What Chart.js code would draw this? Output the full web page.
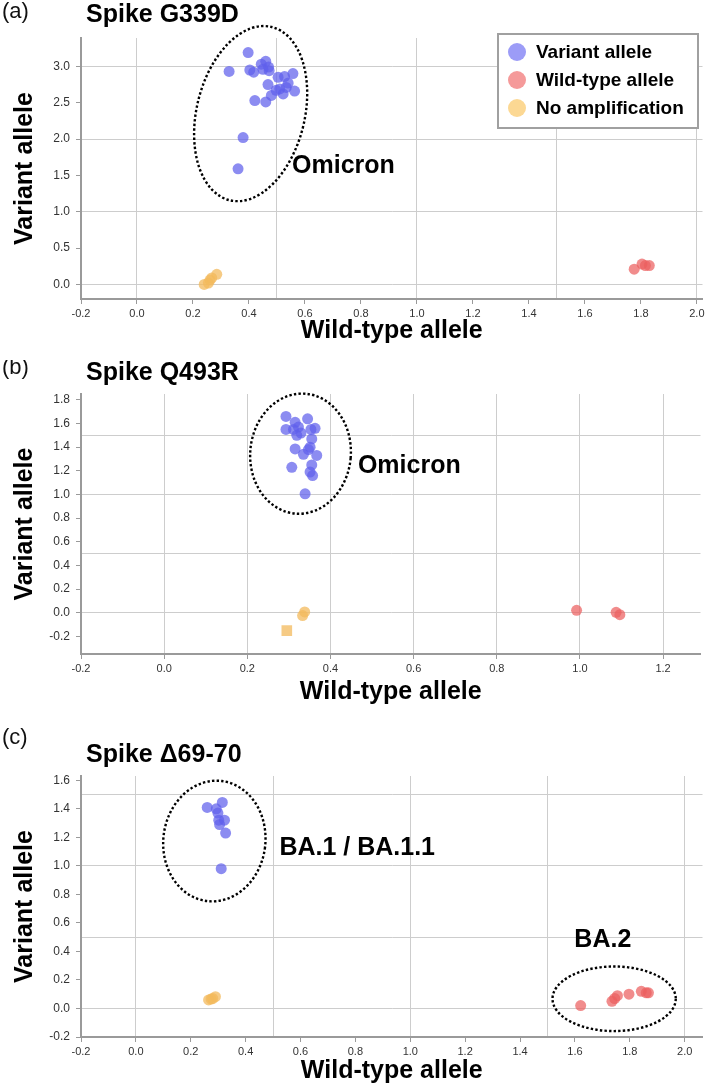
<!DOCTYPE html>
<html><head><meta charset="utf-8">
<script src="https://cdn.jsdelivr.net/npm/chart.js@4.4.1/dist/chart.umd.min.js"></script>
<style>
html,body{margin:0;padding:0;background:#fff;}
#wrap{position:relative;width:708px;height:1088px;overflow:hidden;background:#fff;}
canvas{position:absolute;left:0;}
</style></head><body>
<div id="wrap">
<canvas id="ca" width="708" height="360" style="top:0px"></canvas>
<canvas id="cb" width="708" height="355" style="top:360px"></canvas>
<canvas id="cc" width="708" height="373" style="top:715px"></canvas>
</div>
<script>
// ---------- data ----------
const seriesNames = ['Variant allele', 'Wild-type allele', 'No amplification'];

// Panel (a) Spike G339D
const aVariant = [[0.397,3.19],[0.329,2.93],[0.403,2.95],[0.417,2.92],[0.444,3.03],[0.460,3.07],[0.450,2.96],[0.472,2.94],[0.470,2.99],[0.504,2.85],[0.527,2.86],[0.557,2.90],[0.468,2.75],[0.497,2.67],[0.510,2.69],[0.533,2.71],[0.563,2.66],[0.540,2.77],[0.480,2.60],[0.522,2.62],[0.421,2.53],[0.460,2.51],[0.379,2.02],[0.361,1.59]];
const aWild = [[1.776,0.21],[1.804,0.28],[1.816,0.26],[1.830,0.26]];
const aNoAmp = [[0.240,0.00],[0.255,0.02],[0.261,0.06],[0.267,0.09],[0.285,0.14]];
const aXTicks = [-0.2,0.0,0.2,0.4,0.6,0.8,1.0,1.2,1.4,1.6,1.8,2.0];
const aYTicks = [0.0,0.5,1.0,1.5,2.0,2.5,3.0];
const aXGrid = [0.0,0.5,1.0,1.5,2.0];
const aYGrid = [0.0,1.0,2.0,3.0];

// Panel (b) Spike Q493R
const bVariant = [[0.293,1.66],[0.315,1.61],[0.345,1.64],[0.293,1.55],[0.311,1.55],[0.323,1.57],[0.363,1.56],[0.353,1.55],[0.319,1.50],[0.329,1.52],[0.355,1.47],[0.351,1.40],[0.315,1.385],[0.347,1.38],[0.335,1.34],[0.367,1.33],[0.307,1.23],[0.355,1.25],[0.351,1.19],[0.357,1.16],[0.339,1.005]];
const bWild = [[0.992,0.02],[1.087,0.003],[1.096,-0.017]];
const bNoAmp = [[0.338,0.006],[0.333,-0.025]];
const bNoAmpSquare = [[0.295,-0.152]];
const bXTicks = [-0.2,0.0,0.2,0.4,0.6,0.8,1.0,1.2];
const bYTicks = [-0.2,0.0,0.2,0.4,0.6,0.8,1.0,1.2,1.4,1.6,1.8];
const bXGrid = [0.0,0.2,0.4,0.6,0.8,1.0,1.2];
const bYGrid = [0.0,0.5,1.0,1.5];

// Panel (c) Spike Δ69-70
const cVariant = [[0.260,1.41],[0.293,1.40],[0.315,1.445],[0.299,1.37],[0.302,1.32],[0.323,1.32],[0.305,1.29],[0.327,1.23],[0.311,0.98]];
const cWild = [[1.621,0.02],[1.735,0.05],[1.745,0.07],[1.755,0.09],[1.797,0.10],[1.842,0.12],[1.860,0.11],[1.868,0.11]];
const cNoAmp = [[0.265,0.06],[0.274,0.066],[0.280,0.07],[0.290,0.083]];
const cXTicks = [-0.2,0.0,0.2,0.4,0.6,0.8,1.0,1.2,1.4,1.6,1.8,2.0];
const cYTicks = [-0.2,0.0,0.2,0.4,0.6,0.8,1.0,1.2,1.4,1.6];
const cXGrid = [0.0,0.5,1.0,1.5,2.0];
const cYGrid = [0.0,0.5,1.0,1.5];

// ---------- styles ----------
const FONT = '"Liberation Sans", Arial, Helvetica, sans-serif';
const GRID = '#cdcdcd';
const AXIS = '#9a9a9a';
const pointColors = ['rgba(95,95,235,0.72)', 'rgba(236,96,96,0.72)', 'rgba(243,186,92,0.75)'];
const legendColors = ['#9c9cf7', '#f59a9a', '#fcd893'];

function near(list, v) { return list.some(t => Math.abs(t - v) < 1e-6); }

function axis(o) {
  const all = Array.from(new Set([...o.labels, ...o.grid].map(v => Math.round(v * 100) / 100))).sort((a, b) => a - b);
  return {
    type: 'linear', position: o.isY ? 'left' : 'bottom', min: o.min, max: o.max,
    afterBuildTicks: s => { s.ticks = all.filter(v => v >= o.min - 1e-9 && v <= o.max + 1e-9).map(v => ({ value: v })); },
    afterFit: s => { if (o.isY) s.width = o.size; else s.height = o.size; },
    ticks: {
      autoSkip: false, maxRotation: 0, minRotation: 0, padding: o.isY ? 6 : 3, color: '#333',
      font: { family: FONT, size: o.isY ? 12 : 11 },
      callback: v => near(o.labels, v) ? Number(v).toFixed(1) : ''
    },
    grid: {
      color: c => (c.tick && near(o.grid, c.tick.value)) ? GRID : 'rgba(0,0,0,0)',
      tickColor: c => (c.tick && near(o.labels, c.tick.value)) ? AXIS : 'rgba(0,0,0,0)',
      tickLength: 5, lineWidth: 1, drawTicks: true
    },
    border: { display: true, color: AXIS, width: 2 },
    title: { display: true, text: o.title, color: '#000', font: { family: FONT, size: 25, weight: 'bold' }, padding: o.titlePad }
  };
}

function ds(label, arr, color, style, radius) {
  return {
    label: label, data: arr.map(p => ({ x: p[0], y: p[1] })),
    backgroundColor: color, borderWidth: 0, pointRadius: radius || 5.5,
    pointStyle: style || 'circle', pointHoverRadius: radius || 5.5, showLine: false
  };
}

// per-chart decorations (annotations in data units)
const decor = {
  ca: { tag: '(a)', tagY: 12, title: 'Spike G339D', titleY: 15,
        ellipses: [{ x: 0.406, y: 2.35, rx: 0.193, ry: 1.226, rot: 13.6 }],
        labels: [{ text: 'Omicron', x: 0.554, y: 1.63 }], legend: true },
  cb: { tag: '(b)', tagY: 8, title: 'Spike Q493R', titleY: 13,
        ellipses: [{ x: 0.328, y: 1.345, rx: 0.121, ry: 0.509, rot: 5 }],
        labels: [{ text: 'Omicron', x: 0.466, y: 1.236 }] },
  cc: { tag: '(c)', tagY: 23, title: 'Spike Δ69-70', titleY: 40,
        ellipses: [{ x: 0.286, y: 1.174, rx: 0.186, ry: 0.424, rot: 7 }, { x: 1.743, y: 0.068, rx: 0.2246, ry: 0.2265, rot: 0 }],
        labels: [{ text: 'BA.1 / BA.1.1', x: 0.523, y: 1.127 }, { text: 'BA.2', x: 1.598, y: 0.477 }] }
};

const decorPlugin = {
  id: 'decor',
  afterDatasetsDraw(chart) {
    const d = decor[chart.canvas.id]; if (!d) return;
    const ctx = chart.ctx, xs = chart.scales.x, ys = chart.scales.y;
    ctx.save();
    d.ellipses.forEach(e => {
      const cx = xs.getPixelForValue(e.x), cy = ys.getPixelForValue(e.y);
      const rx = Math.abs(xs.getPixelForValue(e.x + e.rx) - cx);
      const ry = Math.abs(ys.getPixelForValue(e.y + e.ry) - cy);
      ctx.beginPath();
      ctx.setLineDash([2.4, 2.2]);
      ctx.lineWidth = 2.4; ctx.strokeStyle = '#000';
      ctx.ellipse(cx, cy, rx, ry, e.rot * Math.PI / 180, 0, Math.PI * 2);
      ctx.stroke();
    });
    ctx.setLineDash([]);
    ctx.fillStyle = '#000'; ctx.textAlign = 'left'; ctx.textBaseline = 'middle';
    ctx.font = 'bold 25px ' + FONT;
    d.labels.forEach(l => ctx.fillText(l.text, xs.getPixelForValue(l.x), ys.getPixelForValue(l.y)));
    ctx.restore();
  },
  afterDraw(chart) {
    const d = decor[chart.canvas.id]; if (!d) return;
    const ctx = chart.ctx;
    ctx.save();
    ctx.fillStyle = '#111'; ctx.textAlign = 'left'; ctx.textBaseline = 'middle';
    ctx.font = '22px ' + FONT;
    ctx.fillText(d.tag, 2, d.tagY);
    ctx.fillStyle = '#000';
    ctx.font = 'bold 25px ' + FONT;
    ctx.fillText(d.title, 86, d.titleY);
    if (d.legend) {
      ctx.fillStyle = '#fff';
      ctx.fillRect(498, 34, 200, 94);
      ctx.strokeStyle = '#a0a0a0'; ctx.lineWidth = 2;
      ctx.strokeRect(498, 34, 200, 94);
      ctx.font = 'bold 19px ' + FONT;
      seriesNames.forEach((name, i) => {
        const cy = 52 + i * 28;
        ctx.beginPath(); ctx.fillStyle = legendColors[i];
        ctx.arc(517, cy, 9, 0, Math.PI * 2); ctx.fill();
        ctx.fillStyle = '#000';
        ctx.fillText(name, 536, cy + 1);
      });
    }
    ctx.restore();
  }
};
Chart.register(decorPlugin);

function makeChart(id, datasets, xo, yo, padTop) {
  return new Chart(document.getElementById(id), {
    type: 'scatter',
    data: { datasets: datasets },
    options: {
      responsive: false, animation: false, events: [],
      layout: { padding: { top: padTop, left: 0, right: 3, bottom: 0 } },
      plugins: { legend: { display: false }, tooltip: { enabled: false } },
      scales: { x: axis(xo), y: axis(yo) }
    }
  });
}

makeChart('ca',
  [ds(seriesNames[0], aVariant, pointColors[0]), ds(seriesNames[1], aWild, pointColors[1]), ds(seriesNames[2], aNoAmp, pointColors[2])],
  { min: -0.2, max: 2.02, labels: aXTicks, grid: aXGrid, size: 61, title: 'Wild-type allele', titlePad: { top: 0, bottom: 14 } },
  { isY: true, min: -0.2, max: 3.39, labels: aYTicks, grid: aYGrid, size: 81, title: 'Variant allele', titlePad: { top: 10, bottom: 0 } },
  38);

makeChart('cb',
  [ds(seriesNames[0], bVariant, pointColors[0]), ds(seriesNames[1], bWild, pointColors[1]), ds(seriesNames[2], bNoAmp, pointColors[2]), ds(seriesNames[2], bNoAmpSquare, pointColors[2], 'rect', 7.5)],
  { min: -0.2, max: 1.29, labels: bXTicks, grid: bXGrid, size: 61, title: 'Wild-type allele', titlePad: { top: 0, bottom: 8 } },
  { isY: true, min: -0.35, max: 1.85, labels: bYTicks, grid: bYGrid, size: 81, title: 'Variant allele', titlePad: { top: 10, bottom: 0 } },
  34);

makeChart('cc',
  [ds(seriesNames[0], cVariant, pointColors[0]), ds(seriesNames[1], cWild, pointColors[1]), ds(seriesNames[2], cNoAmp, pointColors[2])],
  { min: -0.2, max: 2.065, labels: cXTicks, grid: cXGrid, size: 51, title: 'Wild-type allele', titlePad: { top: 0, bottom: 2 } },
  { isY: true, min: -0.2, max: 1.63, labels: cYTicks, grid: cYGrid, size: 81, title: 'Variant allele', titlePad: { top: 10, bottom: 0 } },
  61);
</script>
</body></html>
